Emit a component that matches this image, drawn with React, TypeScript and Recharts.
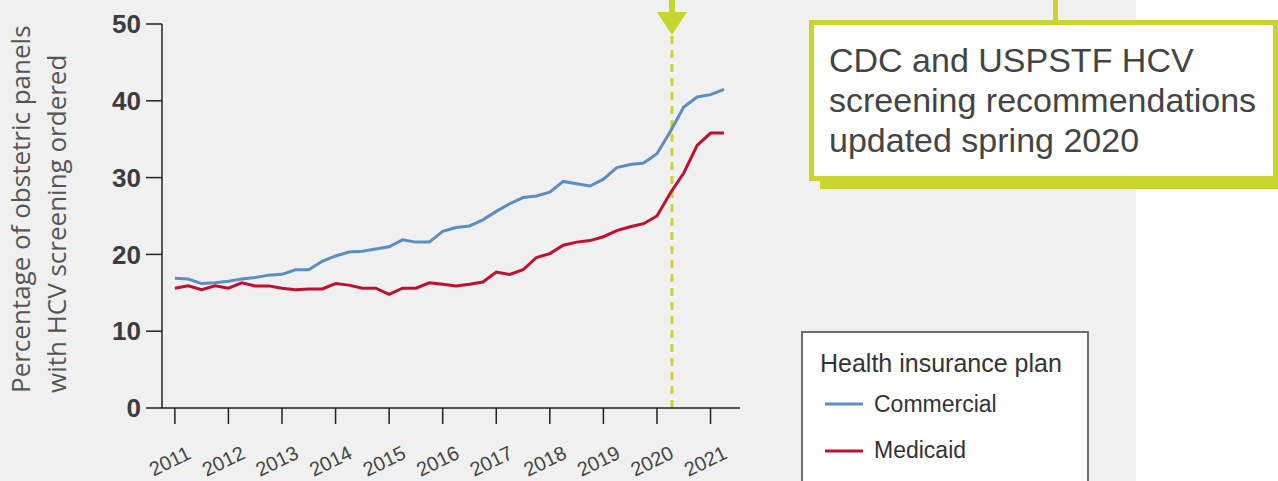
import React from 'react';
import { LineChart, Line, XAxis, YAxis, ReferenceLine, Legend } from 'recharts';

// quarterly periods, 2011 Q1 .. 2021 Q2
const periods = [
  2011, 2011.25, 2011.5, 2011.75, 2012, 2012.25, 2012.5, 2012.75,
  2013, 2013.25, 2013.5, 2013.75, 2014, 2014.25, 2014.5, 2014.75,
  2015, 2015.25, 2015.5, 2015.75, 2016, 2016.25, 2016.5, 2016.75,
  2017, 2017.25, 2017.5, 2017.75, 2018, 2018.25, 2018.5, 2018.75,
  2019, 2019.25, 2019.5, 2019.75, 2020, 2020.25, 2020.5, 2020.75,
  2021, 2021.25,
];

const commercial = [
  16.9, 16.8, 16.2, 16.3, 16.5, 16.8, 17.0, 17.3,
  17.4, 18.0, 18.0, 19.1, 19.8, 20.3, 20.4, 20.7,
  21.0, 21.9, 21.6, 21.6, 23.0, 23.5, 23.7, 24.5,
  25.6, 26.6, 27.4, 27.6, 28.1, 29.5, 29.2, 28.9,
  29.8, 31.3, 31.7, 31.9, 33.1, 36.0, 39.2, 40.5,
  40.8, 41.5,
];

const medicaid = [
  15.6, 15.9, 15.4, 15.9, 15.6, 16.3, 15.9, 15.9,
  15.6, 15.4, 15.5, 15.5, 16.2, 16.0, 15.6, 15.6,
  14.8, 15.6, 15.6, 16.3, 16.1, 15.9, 16.1, 16.4,
  17.7, 17.4, 18.0, 19.6, 20.1, 21.2, 21.6, 21.8,
  22.3, 23.1, 23.6, 24.0, 25.0, 28.0, 30.6, 34.2,
  35.8, 35.8,
];

const yearTicks = [2011, 2012, 2013, 2014, 2015, 2016, 2017, 2018, 2019, 2020, 2021];
const valueTicks = [0, 10, 20, 30, 40, 50];
const guidelineUpdate = 2020.28;

const data = periods.map((t, i) => ({ t, commercial: commercial[i], medicaid: medicaid[i] }));

const SANS = '"Liberation Sans", Arial, sans-serif';
const LIME = '#c8d52e';
const BG = '#eff0ef';

const YearTick = ({ x, y, payload }: any) => (
  <g transform={`translate(${x - 5},${y + 35}) rotate(-26)`}>
    <text textAnchor="middle" dy="0.35em" fontFamily={SANS} fontSize={20} fill="#444">
      {payload.value}
    </text>
  </g>
);

const AxisTitle = ({ viewBox }: any) => {
  const bottom = viewBox.y + viewBox.height - 15;
  const style = { fontFamily: '"Open Sans", sans-serif', fontSize: 26, fill: '#555' };
  return (
    <g>
      <text transform={`translate(${viewBox.x + 30},${bottom}) rotate(-90)`} {...style}>
        Percentage of obstetric panels
      </text>
      <text transform={`translate(${viewBox.x + 66},${bottom}) rotate(-90)`} {...style}>
        with HCV screening ordered
      </text>
    </g>
  );
};

const GuideLine = (p: any) => {
  const top = Math.min(p.y1, p.y2);
  const x = p.x1;
  return (
    <g>
      <line x1={p.x1} y1={p.y1} x2={p.x2} y2={p.y2} stroke={LIME} strokeWidth={3} strokeDasharray="8 6" />
      <rect x={x - 3} y={0} width={6} height={top - 11} fill={LIME} />
      <polygon points={`${x - 15},${top - 12} ${x + 15},${top - 12} ${x},${top + 11}`} fill={LIME} />
    </g>
  );
};

const LegendBox = ({ payload }: any) => (
  <div
    style={{
      position: 'relative', width: 288, height: 170, background: '#fff',
      border: '2px solid #6d6e70', boxSizing: 'border-box', fontFamily: SANS, color: '#333',
    }}
  >
    <div style={{ position: 'absolute', left: 17, top: 18, fontSize: 25, lineHeight: 1, whiteSpace: 'nowrap' }}>
      Health insurance plan
    </div>
    {(payload || []).map((entry: any, i: number) => (
      <div key={entry.value} style={{ position: 'absolute', left: 22, top: 59 + i * 46.5, height: 24, display: 'flex', alignItems: 'center' }}>
        <svg width={38} height={6} style={{ display: 'block' }}>
          <line x1={0} y1={3} x2={38} y2={3} stroke={entry.color} strokeWidth={3} />
        </svg>
        <span style={{ marginLeft: 11, fontSize: 23, lineHeight: 1 }}>{entry.value}</span>
      </div>
    ))}
  </div>
);

export default function App() {
  return (
    <div style={{ position: 'absolute', left: 0, top: 0, width: 1278, height: 481, overflow: 'hidden', background: '#fff' }}>
      <div style={{ position: 'absolute', left: 0, top: 0, width: 1136, height: 481, background: BG }} />
      <div style={{ position: 'absolute', left: 0, top: 0 }}>
        <LineChart width={1278} height={481} data={data} margin={{ top: 24, right: 538, bottom: 0, left: 0 }}>
          <XAxis
            dataKey="t"
            type="number"
            domain={[2010.76, 2021.55]}
            allowDataOverflow
            ticks={yearTicks}
            tick={<YearTick />}
            tickSize={16}
            height={73}
            axisLine={{ stroke: '#222', strokeWidth: 1.5 }}
            tickLine={{ stroke: '#222', strokeWidth: 1.5 }}
          />
          <YAxis
            domain={[0, 50]}
            ticks={valueTicks}
            width={162}
            tickSize={16}
            tickMargin={5}
            tick={{ fontFamily: SANS, fontSize: 26, fontWeight: 700, fill: '#3d3d3d' }}
            axisLine={{ stroke: '#222', strokeWidth: 1.5 }}
            tickLine={{ stroke: '#222', strokeWidth: 1.5 }}
            label={{ content: <AxisTitle /> }}
          />
          <ReferenceLine x={guidelineUpdate} shape={<GuideLine />} />
          <Line name="Commercial" dataKey="commercial" stroke="#5b8fc2" strokeWidth={3} dot={false} isAnimationActive={false} />
          <Line name="Medicaid" dataKey="medicaid" stroke="#c00f2f" strokeWidth={3} dot={false} isAnimationActive={false} />
          <Legend
            layout="horizontal"
            align="center"
            verticalAlign="middle"
            content={<LegendBox />}
            wrapperStyle={{ position: 'absolute', left: 801, top: 331, width: 288, height: 170 }}
          />
        </LineChart>
      </div>
      <div style={{ position: 'absolute', left: 1053, top: 0, width: 5, height: 22, background: LIME }} />
      <div
        style={{
          position: 'absolute', left: 809, top: 20, width: 469, height: 161, boxSizing: 'border-box',
          background: '#fff', border: `5px solid ${LIME}`, boxShadow: `11px 8px 0 ${LIME}`,
          padding: '15px 0 0 15px', fontFamily: SANS, fontSize: 34, lineHeight: '40px', color: '#444',
          whiteSpace: 'nowrap',
        }}
      >
        CDC and USPSTF HCV
        <br />
        screening recommendations
        <br />
        updated spring 2020
      </div>
    </div>
  );
}
